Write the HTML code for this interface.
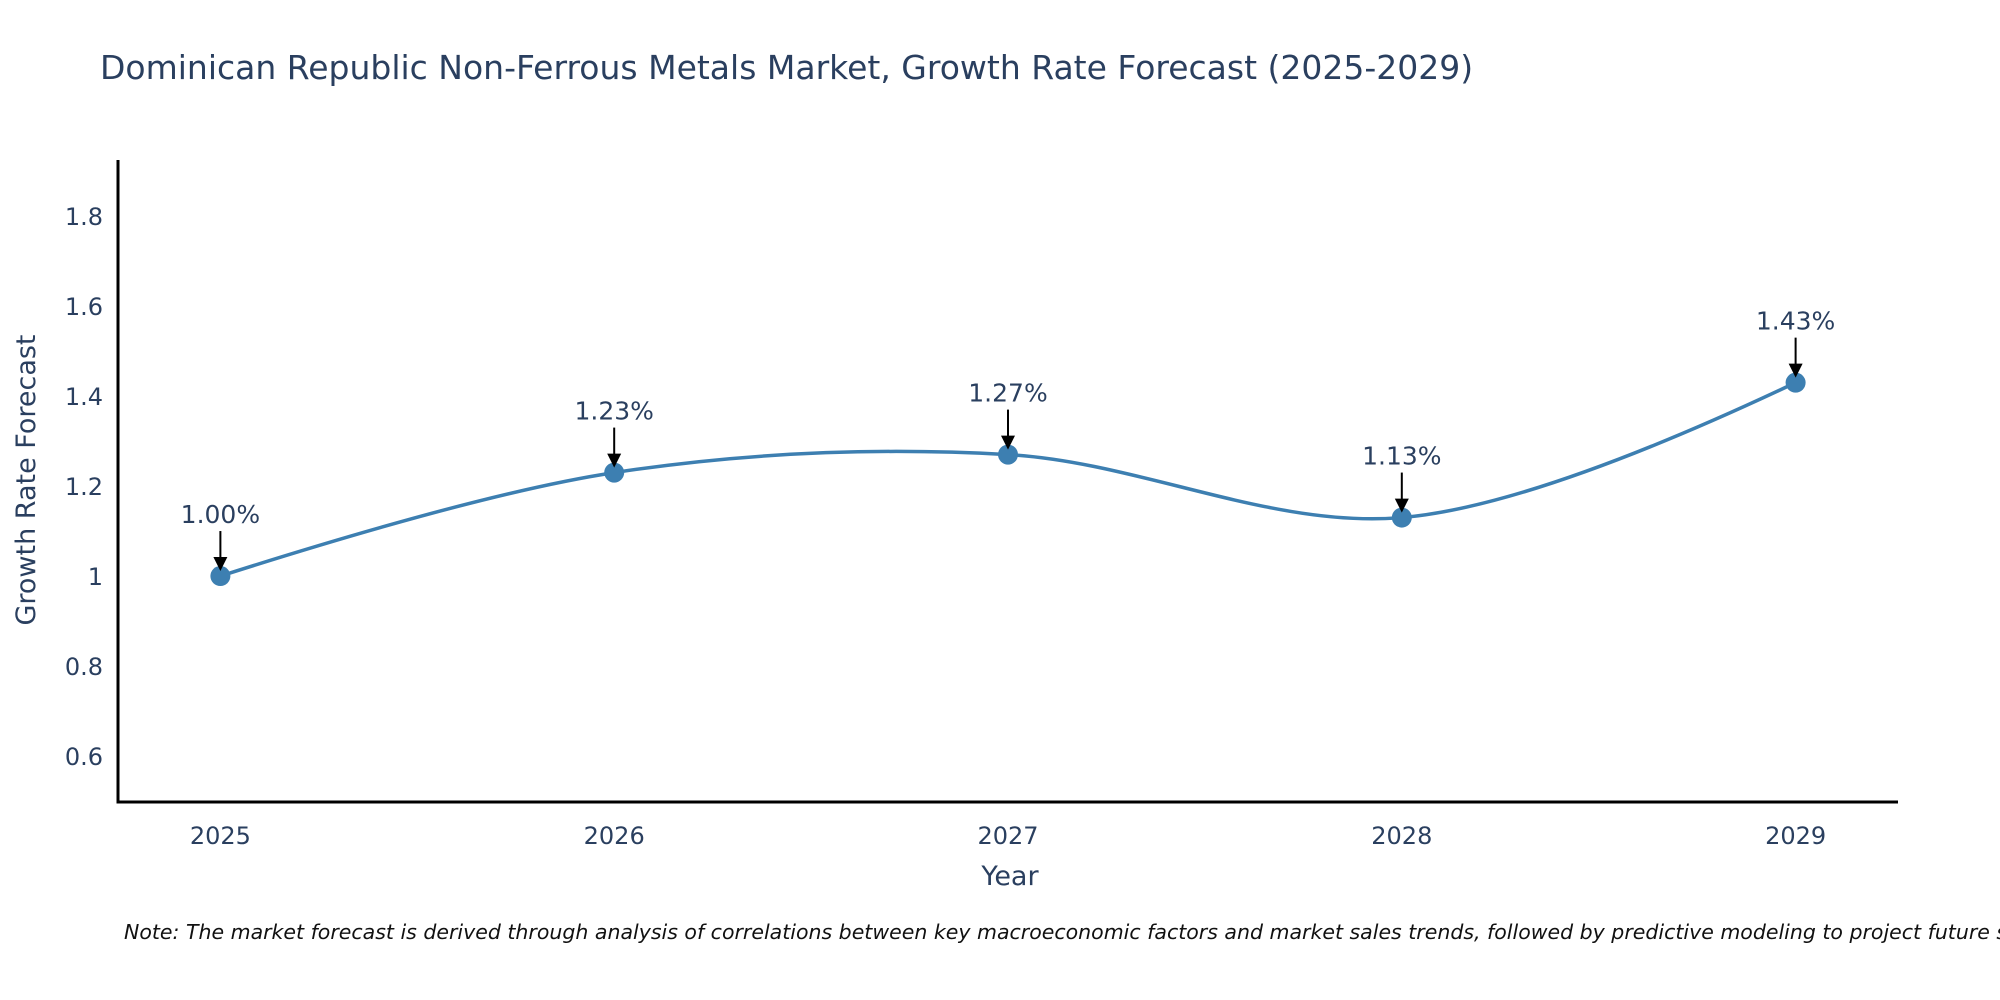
<!DOCTYPE html>
<html><head><meta charset="utf-8"><style>
html,body{margin:0;padding:0;background:#fff;overflow:hidden;}
svg{display:block;font-family:"DejaVu Sans","Liberation Sans",sans-serif;}
</style></head><body>
<svg id="chart" width="2000" height="1000" viewBox="0 0 2000 1000">
<text x="100" y="79" font-size="33" fill="#2a3f5f">Dominican Republic Non-Ferrous Metals Market, Growth Rate Forecast (2025-2029)</text>
<g id="axes"></g>
<g id="series"></g>
<text x="1010" y="885" font-size="27" fill="#2a3f5f" text-anchor="middle">Year</text>
<text transform="translate(35,480) rotate(-90)" font-size="27" fill="#2a3f5f" text-anchor="middle">Growth Rate Forecast</text>
<text x="124" y="939" font-size="20.5" font-style="italic" fill="#111">Note: The market forecast is derived through analysis of correlations between key macroeconomic factors and market sales trends, followed by predictive modeling to project future sales.</text>
</svg>
<script>
const years = [2025, 2026, 2027, 2028, 2029];
const growth = [1.00, 1.23, 1.27, 1.13, 1.43];
const labels = ["1.00%", "1.23%", "1.27%", "1.13%", "1.43%"];
const yTicks = [0.6, 0.8, 1, 1.2, 1.4, 1.6, 1.8];
const yTickLabels = ["0.6", "0.8", "1", "1.2", "1.4", "1.6", "1.8"];

const NS = "http://www.w3.org/2000/svg";
const L = 118, R = 1898, T = 160, B = 802;
const xMin = 2024.74, xMax = 2029.26, yMin = 0.4976, yMax = 1.925;
const xs = v => L + (v - xMin) / (xMax - xMin) * (R - L);
const ys = v => B - (v - yMin) / (yMax - yMin) * (B - T);
function mk(tag, attrs, parent) {
  const e = document.createElementNS(NS, tag);
  for (const k in attrs) e.setAttribute(k, attrs[k]);
  parent.appendChild(e);
  return e;
}
const axes = document.getElementById('axes');
const series = document.getElementById('series');

const yl = mk('line', {x1: L, y1: T, x2: L, y2: B + 1.5, stroke: '#000', 'stroke-width': 3}, axes);


const xl = mk('line', {x1: L - 1.5, y1: B, x2: R, y2: B, stroke: '#000', 'stroke-width': 3}, axes);



yTicks.forEach((v, i) => {
  const t = mk('text', {x: L - 15, y: ys(v) + 9, 'font-size': 24, fill: '#2a3f5f', 'text-anchor': 'end'}, axes);
  t.textContent = yTickLabels[i];
  
  
});
years.forEach(v => {
  const t = mk('text', {x: xs(v), y: B + 42, 'font-size': 24, fill: '#2a3f5f', 'text-anchor': 'middle'}, axes);
  t.textContent = String(v);
  
  
});

const pts = years.map((y, i) => [xs(y), ys(growth[i])]);
function ctrl(p0, p1, p2, s) {
  const d1x = p0[0]-p1[0], d1y = p0[1]-p1[1], d2x = p2[0]-p1[0], d2y = p2[1]-p1[1];
  const d1a = Math.pow(d1x*d1x + d1y*d1y, 0.25), d2a = Math.pow(d2x*d2x + d2y*d2y, 0.25);
  const nx = (d2a*d2a*d1x - d1a*d1a*d2x) * s, ny = (d2a*d2a*d1y - d1a*d1a*d2y) * s;
  const den1 = 3*d2a*(d1a+d2a), den2 = 3*d1a*(d1a+d2a);
  return [[p1[0] + nx/den1, p1[1] + ny/den1], [p1[0] - nx/den2, p1[1] - ny/den2]];
}
const tg = [];
for (let i = 1; i < pts.length - 1; i++) tg.push(ctrl(pts[i-1], pts[i], pts[i+1], 1));
let d = 'M' + pts[0] + 'Q' + tg[0][0] + ' ' + pts[1];
for (let i = 2; i < pts.length - 1; i++) d += 'C' + tg[i-2][1] + ' ' + tg[i-1][0] + ' ' + pts[i];
d += 'Q' + tg[pts.length-3][1] + ' ' + pts[pts.length-1];
const line = mk('path', {d: d, fill: 'none', stroke: '#3d7fb1', 'stroke-width': 3.5}, series);



pts.forEach((p, i) => {
  const c = mk('circle', {cx: p[0], cy: p[1], r: 10, fill: '#3d7fb1'}, series);
  
  
  const a = mk('line', {x1: p[0], y1: p[1] - 45, x2: p[0], y2: p[1] - 18, stroke: '#000', 'stroke-width': 2}, series);
  
  
  const h = mk('polygon', {points: (p[0]-7)+','+(p[1]-19)+' '+(p[0]+7)+','+(p[1]-19)+' '+p[0]+','+(p[1]-5), fill: '#000'}, series);
  
  
  const t = mk('text', {x: p[0], y: p[1] - 53, 'font-size': 25, fill: '#2a3f5f', 'text-anchor': 'middle'}, series);
  t.textContent = labels[i];
  
  
});
</script>
</body></html>
